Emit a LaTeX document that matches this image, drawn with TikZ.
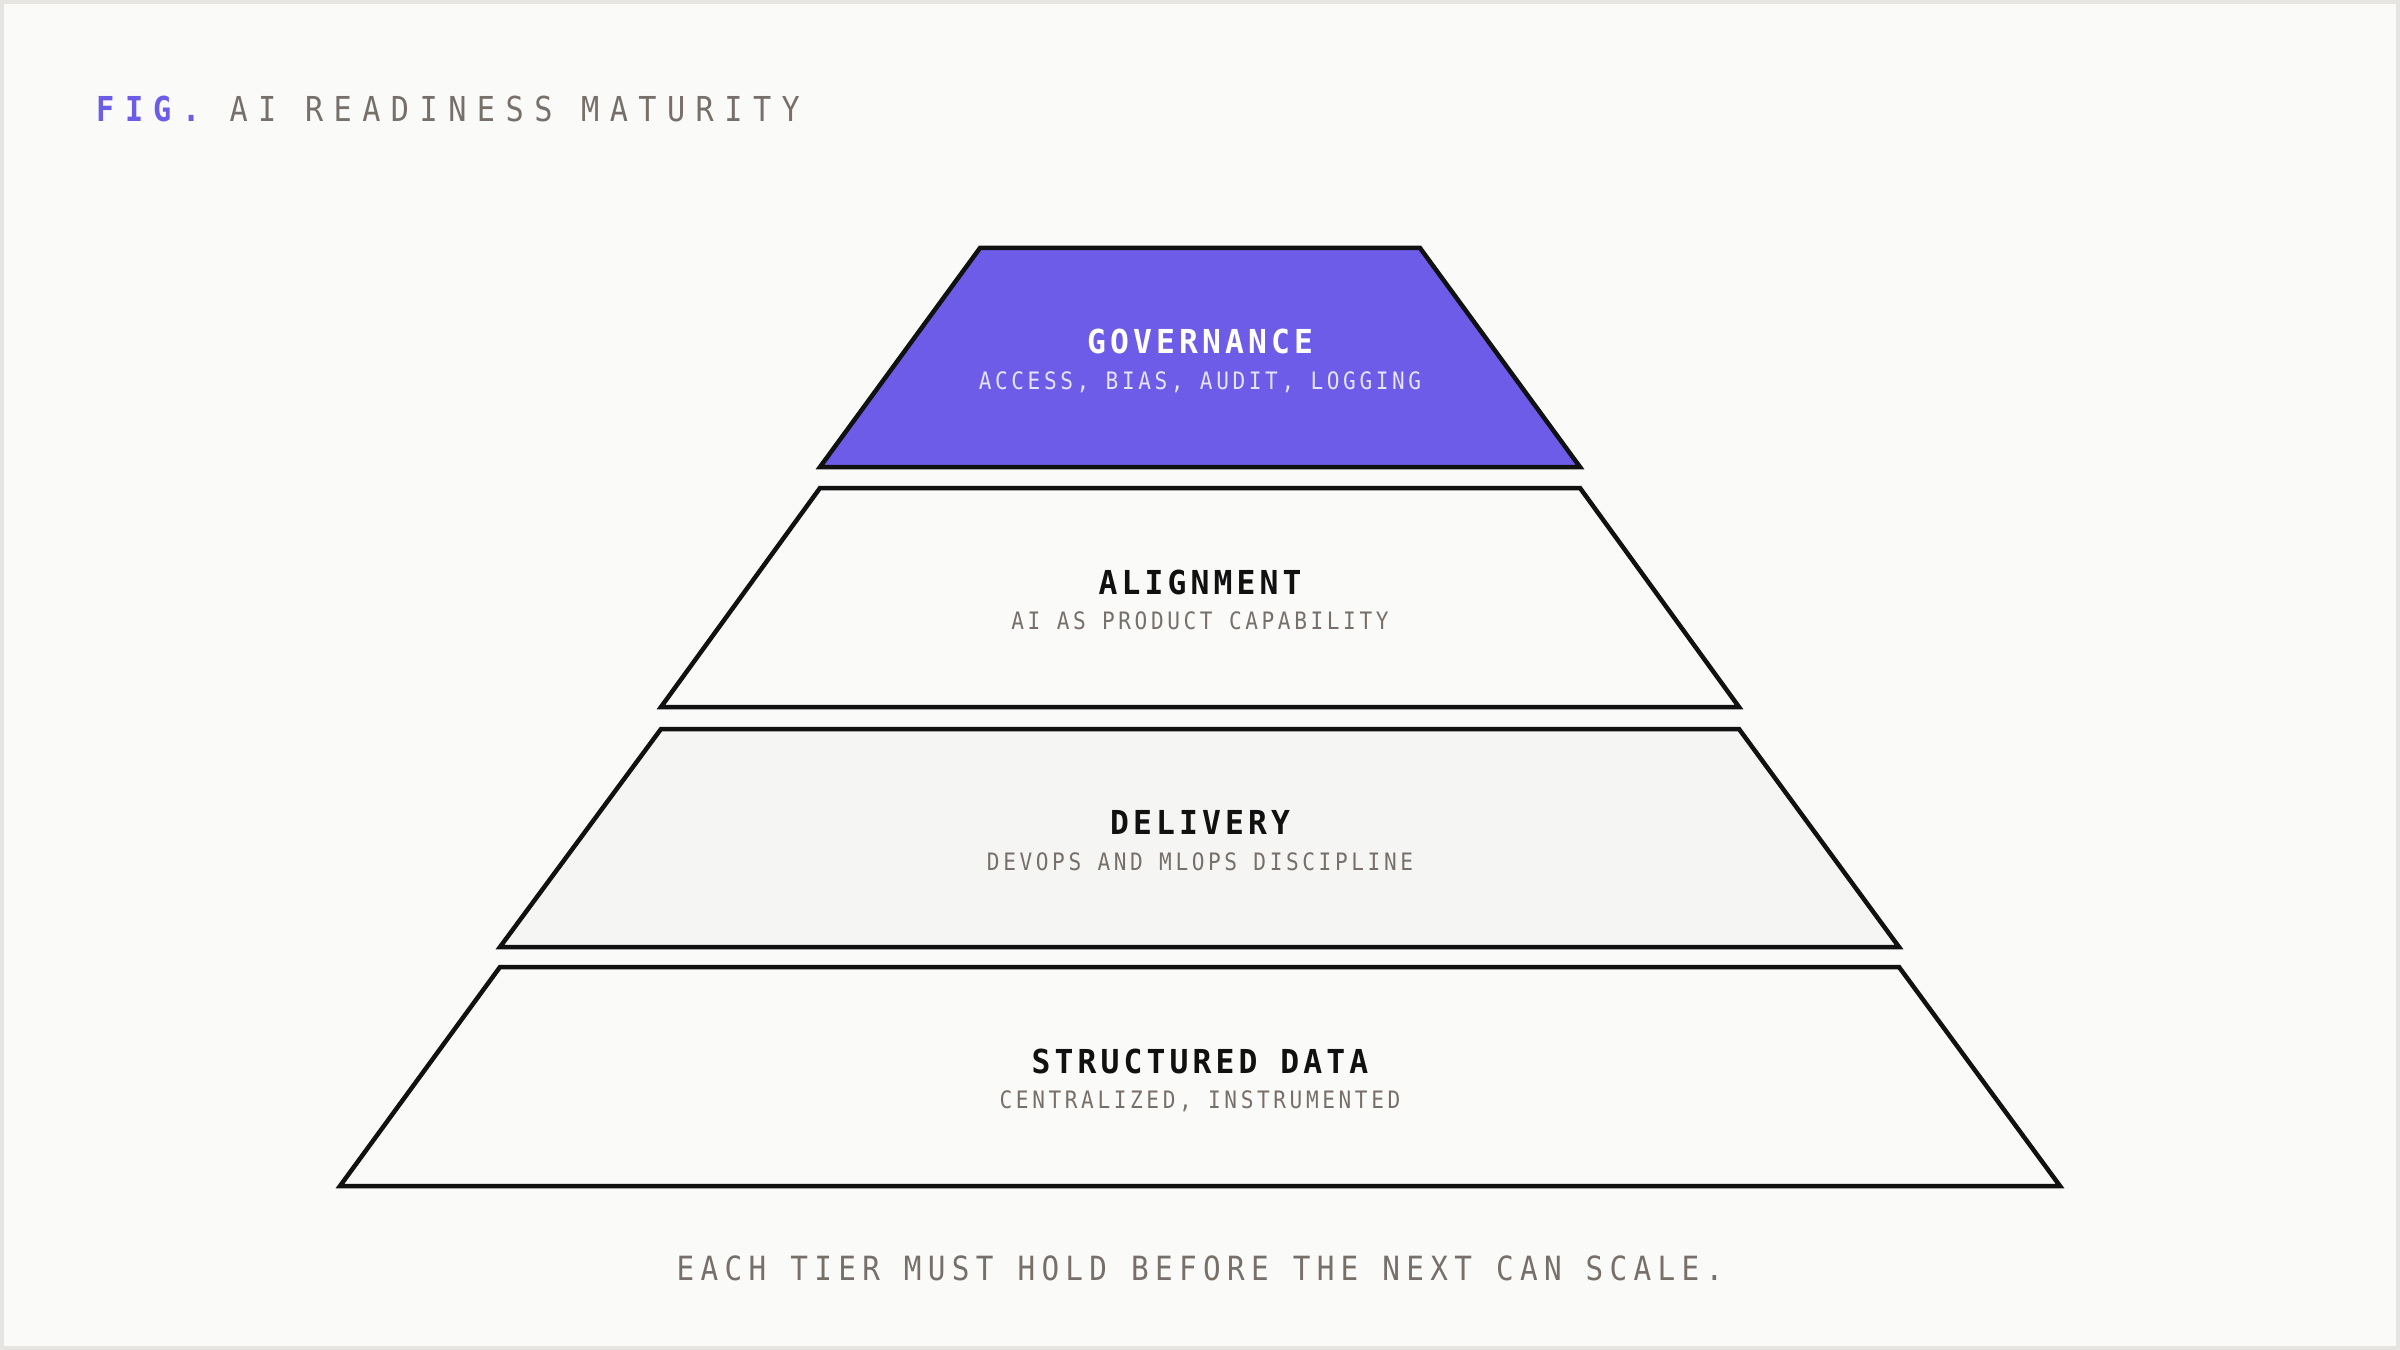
\documentclass[tikz,border=0pt]{standalone}
\usepackage{fontspec}
\newfontfamily\titlefont[LetterSpace=30.5,FakeStretch=0.88]{DejaVu Sans Mono}
\newfontfamily\headfont[LetterSpace=12.5,FakeStretch=0.95]{DejaVu Sans Mono}
\newfontfamily\subfont[LetterSpace=15,FakeStretch=0.88]{DejaVu Sans Mono}
\newfontfamily\capfont[LetterSpace=19,FakeStretch=0.88]{DejaVu Sans Mono}
\definecolor{bgc}{HTML}{FAFAF8}
\definecolor{framec}{HTML}{E6E5E2}
\definecolor{purp}{HTML}{6C5CE7}
\definecolor{warmgray}{HTML}{77706A}
\definecolor{inkc}{HTML}{111111}
\definecolor{tierlight}{HTML}{F5F5F3}
\definecolor{sublight}{HTML}{E6E3FA}
\begin{document}
\begin{tikzpicture}[x=0.3pt,y=-0.3pt,
  tier/.style={draw=inkc,line width=1.35pt,line join=miter},
  headtext/.style={anchor=base,inner sep=0pt,font=\headfont\bfseries\fontsize{9.9}{12}\selectfont,text=inkc},
  subtext/.style={anchor=base,inner sep=0pt,font=\subfont\fontsize{7.2}{9}\selectfont,text=warmgray},
]
\fill[framec] (0,0) rectangle (2400,1350);
\fill[bgc] (4,4) rectangle (2396,1346);
\useasboundingbox (0,0) rectangle (2400,1350);

% title
\node[anchor=base west,inner sep=0pt,font=\titlefont\fontsize{10.3}{12}\selectfont] (title) at (96,122)
  {\textcolor{purp}{\bfseries FIG.}\ \textcolor{warmgray}{AI READINESS MATURITY}};

% tier corners
\coordinate (g1) at (980,248);  \coordinate (g2) at (1420,248);
\coordinate (g3) at (1580,467); \coordinate (g4) at (820,467);
\coordinate (a1) at (820,488);  \coordinate (a2) at (1580,488);
\coordinate (a3) at (1739,707); \coordinate (a4) at (661,707);
\coordinate (d1) at (661,729);  \coordinate (d2) at (1739,729);
\coordinate (d3) at (1899,947); \coordinate (d4) at (500,947);
\coordinate (s1) at (500,967);  \coordinate (s2) at (1899,967);
\coordinate (s3) at (2060,1186); \coordinate (s4) at (340,1186);

\draw[tier,fill=purp] (g1) -- (g2) -- (g3) -- (g4) -- cycle;
\draw[tier,fill=bgc] (a1) -- (a2) -- (a3) -- (a4) -- cycle;
\draw[tier,fill=tierlight] (d1) -- (d2) -- (d3) -- (d4) -- cycle;
\draw[tier,fill=bgc] (s1) -- (s2) -- (s3) -- (s4) -- cycle;

% labels
\node[headtext,text=white] (gh) at (1200,353) {GOVERNANCE};
\node[subtext,text=sublight] (gs) at (1200,389.5) {ACCESS, BIAS, AUDIT, LOGGING};
\node[headtext] (ah) at (1200,594) {ALIGNMENT};
\node[subtext] (as) at (1200,629.5) {AI AS PRODUCT CAPABILITY};
\node[headtext] (dh) at (1200,834) {DELIVERY};
\node[subtext] (ds) at (1200,870.5) {DEVOPS AND MLOPS DISCIPLINE};
\node[headtext] (sh) at (1200,1073) {STRUCTURED DATA};
\node[subtext] (ss) at (1200,1108.5) {CENTRALIZED, INSTRUMENTED};

% caption
\node[anchor=base,inner sep=0pt,font=\capfont\fontsize{10}{12}\selectfont,text=warmgray] (cap) at (1200,1280)
  {EACH TIER MUST HOLD BEFORE THE NEXT CAN SCALE.};
\end{tikzpicture}
\end{document}
